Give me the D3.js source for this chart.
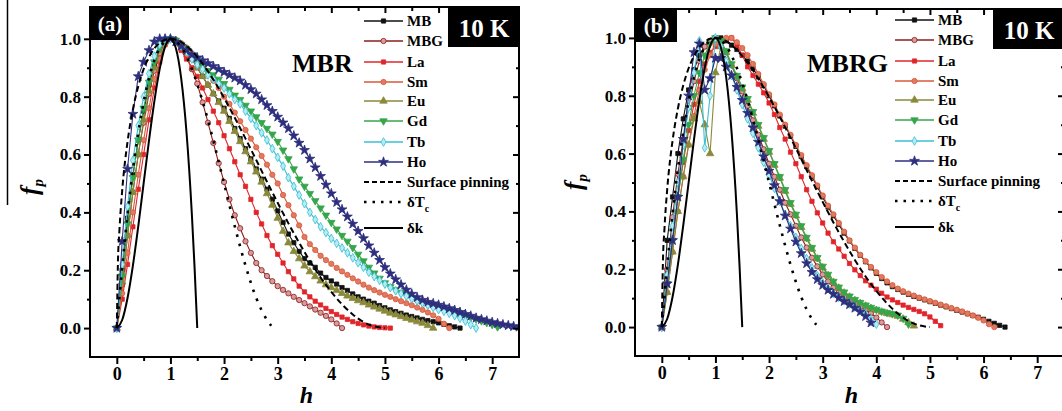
<!DOCTYPE html>
<html><head><meta charset="utf-8">
<script src="https://cdn.jsdelivr.net/npm/d3@7"></script>
<style>
body{margin:0;background:#fff}
svg{display:block}
text{font-family:"Liberation Serif","Times New Roman",serif;font-weight:bold}
</style>
</head><body>
<svg id="c" width="1062" height="411"></svg>
<script>
// ---------- DATA ----------
const H = [0,0.1,0.2,0.3,0.4,0.5,0.6,0.7,0.8,0.9,1,1.1,1.2,1.3,1.4,1.5,1.6,1.7,1.8,1.9,2,2.1,2.2,2.3,2.4,2.5,2.6,2.7,2.8,2.9,3,3.1,3.2,3.3,3.4,3.5,3.6,3.7,3.8,3.9,4,4.1,4.2,4.3,4.4,4.5,4.6,4.7,4.8,4.9,5,5.1,5.2,5.3,5.4,5.5,5.6,5.7,5.8,5.9,6,6.1,6.2,6.3,6.4,6.5,6.6,6.7,6.8,6.9,7,7.1,7.2,7.3,7.4,7.5];

const SERIES = ["MB","MBG","La","Sm","Eu","Gd","Tb","Ho"];

// panel (a) MBR, f_p at h = H[i]
const A_MB = [0,0.2,0.38,0.53,0.65,0.75,0.84,0.91,0.96,0.99,1.0,
 0.995,0.98,0.96,0.93,0.9,0.87,0.84,0.81,0.785,0.76,
 0.725,0.69,0.655,0.62,0.585,0.55,0.515,0.48,0.445,0.405,
 0.365,0.325,0.295,0.265,0.24,0.225,0.21,0.19,0.175,0.163,
 0.152,0.14,0.13,0.118,0.108,0.1,0.093,0.086,0.078,0.07,
 0.063,0.057,0.051,0.045,0.04,0.035,0.03,0.026,0.022,0.018,
 0.013,0.008,0.004,0];
const A_MBG = [0,0.15,0.32,0.47,0.6,0.71,0.81,0.89,0.95,0.99,1.0,
 0.99,0.97,0.94,0.895,0.845,0.78,0.71,0.64,0.57,0.505,
 0.445,0.39,0.345,0.3,0.26,0.225,0.2,0.18,0.162,0.145,
 0.132,0.12,0.108,0.097,0.086,0.075,0.064,0.053,0.042,0.03,
 0.016,0];
const A_La = [0,0.1,0.22,0.35,0.48,0.6,0.72,0.83,0.92,0.98,1.0,
 0.985,0.96,0.93,0.9,0.87,0.83,0.79,0.75,0.71,0.665,
 0.62,0.575,0.53,0.49,0.445,0.4,0.36,0.32,0.285,0.255,
 0.225,0.195,0.17,0.145,0.125,0.108,0.093,0.08,0.068,0.057,
 0.047,0.038,0.03,0.022,0.016,0.011,0.007,0.004,0.002,0.001,0];
const A_Sm = [0,0.12,0.26,0.4,0.53,0.65,0.76,0.86,0.93,0.98,1.0,
 0.995,0.985,0.97,0.95,0.93,0.905,0.88,0.855,0.83,0.8,
 0.775,0.745,0.715,0.685,0.655,0.625,0.595,0.565,0.53,0.5,
 0.46,0.425,0.39,0.355,0.315,0.29,0.27,0.25,0.235,0.222,
 0.208,0.196,0.184,0.172,0.161,0.15,0.14,0.131,0.123,0.115,
 0.108,0.1,0.093,0.086,0.079,0.071,0.063,0.054,0.044,0.032,
 0.015,0];
const A_Eu = [0,0.16,0.32,0.47,0.6,0.72,0.82,0.9,0.96,0.99,1.0,
 0.995,0.98,0.955,0.93,0.9,0.87,0.84,0.81,0.78,0.75,
 0.715,0.68,0.645,0.61,0.575,0.54,0.505,0.465,0.425,0.38,
 0.335,0.295,0.265,0.24,0.215,0.195,0.178,0.163,0.15,0.14,
 0.13,0.12,0.111,0.103,0.095,0.088,0.08,0.073,0.066,0.059,
 0.052,0.046,0.04,0.034,0.028,0.022,0.017,0.009,0];
const A_Gd = [0,0.18,0.36,0.52,0.65,0.76,0.85,0.92,0.97,0.995,1.0,
 0.995,0.98,0.965,0.945,0.93,0.91,0.89,0.875,0.86,0.845,
 0.825,0.805,0.79,0.77,0.75,0.73,0.71,0.69,0.67,0.645,
 0.615,0.585,0.55,0.515,0.49,0.465,0.44,0.415,0.39,0.365,
 0.342,0.32,0.3,0.278,0.255,0.232,0.21,0.19,0.172,0.156,
 0.143,0.133,0.123,0.114,0.105,0.096,0.088,0.082,0.076,0.07,
 0.064,0.058,0.053,0.048,0.042,0.037,0.031,0.025,0.019,0.012,0.004];
const A_Tb = [0,0.22,0.42,0.58,0.7,0.8,0.88,0.94,0.98,1.0,1.0,
 0.99,0.975,0.955,0.93,0.91,0.895,0.875,0.86,0.845,0.83,
 0.81,0.79,0.775,0.75,0.725,0.7,0.675,0.65,0.62,0.59,
 0.56,0.52,0.49,0.46,0.43,0.4,0.375,0.35,0.33,0.31,
 0.293,0.277,0.26,0.243,0.226,0.21,0.193,0.178,0.165,0.152,
 0.14,0.129,0.119,0.11,0.102,0.094,0.087,0.079,0.071,0.064,
 0.058,0.051,0.043,0.034,0.024,0.012,0];
const A_Ho = [0,0.3,0.55,0.74,0.87,0.92,0.96,0.99,1.0,1.0,1.0,
 0.99,0.975,0.96,0.945,0.935,0.925,0.915,0.905,0.895,0.885,
 0.875,0.865,0.855,0.84,0.825,0.81,0.79,0.77,0.75,0.73,
 0.71,0.69,0.665,0.64,0.615,0.585,0.555,0.525,0.495,0.465,
 0.435,0.41,0.385,0.36,0.335,0.31,0.285,0.26,0.235,0.21,
 0.188,0.168,0.15,0.132,0.118,0.106,0.097,0.09,0.085,0.08,
 0.074,0.068,0.062,0.055,0.048,0.042,0.035,0.03,0.025,0.02,
 0.016,0.012,0.009,0.006,0.004];

// panel (b) MBRG
const B_MB = [0,0.3,0.45,0.6,0.72,0.82,0.89,0.94,0.97,0.99,1.0,
 1.0,0.99,0.975,0.96,0.94,0.92,0.895,0.865,0.835,0.8,
 0.765,0.73,0.695,0.66,0.625,0.59,0.555,0.52,0.485,0.45,
 0.415,0.385,0.355,0.325,0.298,0.272,0.248,0.226,0.205,0.186,
 0.168,0.153,0.14,0.13,0.121,0.113,0.106,0.1,0.094,0.088,
 0.082,0.076,0.07,0.064,0.058,0.052,0.046,0.04,0.034,0.027,
 0.02,0.013,0.006,0];
const B_MBG = [0,0.2,0.38,0.53,0.65,0.76,0.85,0.92,0.97,0.99,1.0,
 0.985,0.95,0.905,0.86,0.815,0.765,0.715,0.665,0.615,0.565,
 0.52,0.475,0.43,0.39,0.35,0.31,0.275,0.24,0.21,0.182,
 0.158,0.137,0.12,0.105,0.092,0.08,0.07,0.06,0.048,0.033,
 0.016,0];
const B_La = [0,0.15,0.3,0.45,0.57,0.68,0.77,0.85,0.91,0.95,0.97,
 0.985,0.995,1.0,0.975,0.94,0.9,0.87,0.84,0.81,0.775,
 0.735,0.69,0.65,0.605,0.565,0.52,0.475,0.435,0.395,0.36,
 0.325,0.295,0.27,0.245,0.22,0.198,0.178,0.16,0.145,0.131,
 0.117,0.104,0.094,0.085,0.076,0.068,0.061,0.054,0.046,0.035,
 0.02,0.005];
const B_Sm = [0,0.12,0.26,0.4,0.52,0.63,0.73,0.82,0.89,0.94,0.98,
 0.99,1.0,1.0,0.985,0.965,0.94,0.91,0.875,0.84,0.805,
 0.77,0.735,0.7,0.665,0.63,0.595,0.56,0.525,0.49,0.455,
 0.42,0.39,0.36,0.33,0.3,0.275,0.25,0.228,0.208,0.19,
 0.173,0.158,0.145,0.133,0.124,0.116,0.109,0.102,0.096,0.09,
 0.084,0.078,0.072,0.066,0.06,0.054,0.047,0.04,0.032,0.023,
 0.01,0];
const B_Eu = [0,0.12,0.26,0.4,0.52,0.63,0.72,0.78,0.7,0.6,0.88,
 0.97,0.95,0.905,0.865,0.825,0.785,0.74,0.695,0.65,0.605,
 0.56,0.515,0.47,0.425,0.385,0.345,0.305,0.27,0.236,0.205,
 0.178,0.155,0.135,0.118,0.104,0.092,0.082,0.073,0.065,0.058,
 0.052,0.047,0.043,0.038,0.028,0.016,0.004];
const B_Gd = [0,0.15,0.3,0.45,0.58,0.7,0.8,0.88,0.94,0.98,1.0,
 0.99,0.955,0.91,0.87,0.83,0.79,0.745,0.7,0.655,0.61,
 0.565,0.52,0.475,0.43,0.39,0.35,0.31,0.275,0.24,0.21,
 0.182,0.158,0.138,0.121,0.107,0.095,0.085,0.076,0.068,0.061,
 0.055,0.05,0.046,0.041,0.03,0.01];
const B_Tb = [0,0.18,0.35,0.5,0.63,0.76,0.88,0.99,0.62,0.8,1.0,
 0.97,0.92,0.87,0.82,0.77,0.72,0.67,0.62,0.57,0.525,
 0.48,0.435,0.39,0.35,0.31,0.272,0.237,0.205,0.177,0.153,
 0.133,0.117,0.103,0.091,0.08,0.069,0.058,0.045,0.028,0.01];
const B_Ho = [0,0.15,0.3,0.45,0.65,0.8,0.95,0.98,0.82,0.86,0.93,
 0.93,0.9,0.87,0.83,0.785,0.74,0.69,0.64,0.59,0.54,
 0.49,0.435,0.385,0.34,0.295,0.255,0.22,0.19,0.165,0.145,
 0.128,0.114,0.101,0.089,0.078,0.066,0.053,0.037,0.015];

// theoretical curves
const SURF_H = [0,0.02,0.05,0.1,0.2,0.3,0.4,0.5,0.6,0.7,0.8,0.9,1.0,1.2,1.4,1.6,1.8,2.0,2.2,2.4,2.6,2.8,3.0,3.2,3.4,3.6,3.8,4.0,4.2,4.4,4.6,4.8,5.0];
const SURF_F = [0,0.22,0.342,0.475,0.644,0.756,0.836,0.895,0.937,0.967,0.986,0.997,1,0.989,0.958,0.914,0.859,0.796,0.727,0.655,0.581,0.506,0.433,0.362,0.295,0.232,0.175,0.125,0.082,0.047,0.021,0.006,0];
const DTC_H = [0,0.1,0.2,0.3,0.4,0.5,0.6,0.7,0.8,0.9,1.0,1.2,1.4,1.6,1.8,2.0,2.2,2.4,2.6,2.8,2.88];
const DTC_F = [0,0.21,0.392,0.547,0.676,0.781,0.864,0.926,0.968,0.992,1,0.972,0.896,0.784,0.648,0.5,0.352,0.216,0.104,0.028,0.008];
const DK_H = [0,0.1,0.2,0.3,0.4,0.5,0.6,0.7,0.8,0.9,1.0,1.1,1.2,1.3,1.4,1.45,1.5];
const DK_F = [0,0.028,0.104,0.216,0.352,0.5,0.648,0.784,0.896,0.972,1,0.968,0.864,0.676,0.392,0.21,0];

const X_TICKS = [0,1,2,3,4,5,6,7];
const X_MINOR = [0.5,1.5,2.5,3.5,4.5,5.5,6.5];
const Y_TICKS = [0,0.2,0.4,0.6,0.8,1.0];
const Y_MINOR = [0.1,0.3,0.5,0.7,0.9];
const LEGEND_THEORY = ["Surface pinning","δT","δk"];

// ---------- STYLE ----------
const STY = {
  MB:  {c:"#111111", fill:"#111111", sym:d3.symbolSquare, size:18, rot:0},
  MBG: {c:"#8a1c1c", fill:"#d99a9a", sym:d3.symbolCircle, size:22, rot:0},
  La:  {c:"#e0262b", fill:"#e0262b", sym:d3.symbolSquare, size:18, rot:0},
  Sm:  {c:"#d8583a", fill:"#e07a60", sym:d3.symbolCircle, size:22, rot:0},
  Eu:  {c:"#8a893a", fill:"#8a893a", sym:d3.symbolTriangle, size:24, rot:0},
  Gd:  {c:"#35a64a", fill:"#35a64a", sym:d3.symbolTriangle, size:24, rot:180},
  Tb:  {c:"#38bfd3", fill:"#b4ecf3", sym:d3.symbolDiamond, size:22, rot:0},
  Ho:  {c:"#2d2f7e", fill:"#2d2f7e", sym:d3.symbolStar, size:30, rot:0}
};

const svg = d3.select("#c");
const pts = (f) => f.map((v,i)=>[H[i],v]);
const zip = (hs,fs) => hs.map((h,i)=>[h,fs[i]]);

// artefact line at left edge of reference
svg.append("line").attr("x1",7.5).attr("x2",7.5).attr("y1",0).attr("y2",205)
  .attr("stroke","#000").attr("stroke-width",1.5);

function drawPanel(cfg){
  const x = d3.scaleLinear().domain([-0.5,7.5]).range(cfg.xr);
  const y = d3.scaleLinear().domain(cfg.yd).range(cfg.yr);
  const g = svg.append("g");
  const L = cfg.xr[0], R = cfg.xr[1], T = cfg.yr[1], B = cfg.yr[0];
  const id = "clip"+cfg.tag;
  g.append("clipPath").attr("id",id).append("rect")
    .attr("x",L).attr("y",T).attr("width",R-L).attr("height",B-T);

  const plot = g.append("g").attr("clip-path",`url(#${id})`);
  const line = d3.line().x(d=>x(d[0])).y(d=>y(d[1]));
  SERIES.forEach(s=>{
    const data = pts(cfg.data[s]);
    const st = STY[s];
    plot.append("path").attr("d",line(data)).attr("fill","none")
      .attr("stroke",st.c).attr("stroke-width",1.1);
    const sym = d3.symbol().type(st.sym).size(st.size);
    plot.append("g").selectAll("path").data(data).join("path")
      .attr("d",sym)
      .attr("transform",d=>`translate(${x(d[0])},${y(d[1])}) rotate(${st.rot})`)
      .attr("fill",st.fill).attr("stroke",st.c).attr("stroke-width",0.8);
  });
  const tl = d3.line().x(d=>x(d[0])).y(d=>y(d[1])).curve(d3.curveMonotoneX);
  plot.append("path").attr("d",tl(zip(SURF_H,SURF_F))).attr("fill","none")
    .attr("stroke","#000").attr("stroke-width",2).attr("stroke-dasharray","6,3.5");
  plot.append("path").attr("d",tl(zip(DTC_H,DTC_F))).attr("fill","none")
    .attr("stroke","#000").attr("stroke-width",2.6).attr("stroke-dasharray","2.6,7")
    .attr("stroke-linecap","butt");
  plot.append("path").attr("d",tl(zip(DK_H,DK_F))).attr("fill","none")
    .attr("stroke","#000").attr("stroke-width",2);

  // axes
  const fs = "17px";
  const ax = (a)=>a.call(s=>s.select(".domain").remove());
  const gb = g.append("g").attr("transform",`translate(0,${B})`)
    .call(d3.axisBottom(x).tickValues(X_TICKS).tickSize(7).tickPadding(3).tickFormat(d3.format("d")));
  ax(gb);
  gb.selectAll("text").attr("font-size","18px").attr("fill","#000");
  gb.selectAll("line").attr("stroke-width",2);
  const gbm = g.append("g").attr("transform",`translate(0,${B})`)
    .call(d3.axisBottom(x).tickValues(X_MINOR).tickSize(4).tickFormat(""));
  ax(gbm); gbm.selectAll("line").attr("stroke-width",2);
  const gt = g.append("g").attr("transform",`translate(0,${T})`)
    .call(d3.axisTop(x).tickValues(X_TICKS).tickSize(-6).tickFormat(""));
  ax(gt); gt.selectAll("line").attr("stroke-width",2);
  const gtm = g.append("g").attr("transform",`translate(0,${T})`)
    .call(d3.axisTop(x).tickValues(X_MINOR).tickSize(-4).tickFormat(""));
  ax(gtm); gtm.selectAll("line").attr("stroke-width",2);
  const gl = g.append("g").attr("transform",`translate(${L},0)`)
    .call(d3.axisLeft(y).tickValues(Y_TICKS).tickSize(6).tickPadding(3).tickFormat(d3.format(".1f")));
  ax(gl);
  gl.selectAll("text").attr("font-size",fs).attr("fill","#000");
  gl.selectAll("line").attr("stroke-width",2);
  const glm = g.append("g").attr("transform",`translate(${L},0)`)
    .call(d3.axisLeft(y).tickValues(Y_MINOR).tickSize(3).tickFormat(""));
  ax(glm); glm.selectAll("line").attr("stroke-width",2);
  const gr = g.append("g").attr("transform",`translate(${R},0)`)
    .call(d3.axisRight(y).tickValues(Y_TICKS).tickSize(-6).tickFormat(""));
  ax(gr); gr.selectAll("line").attr("stroke-width",2);
  const grm = g.append("g").attr("transform",`translate(${R},0)`)
    .call(d3.axisRight(y).tickValues(Y_MINOR).tickSize(-3).tickFormat(""));
  ax(grm); grm.selectAll("line").attr("stroke-width",2);

  g.append("rect").attr("x",L).attr("y",T).attr("width",R-L).attr("height",B-T)
    .attr("fill","none").attr("stroke","#000").attr("stroke-width",2);

  // panel tag box
  g.append("rect").attr("x",L+1).attr("y",T).attr("width",cfg.tagW).attr("height",33).attr("fill","#000");
  g.append("text").attr("x",L+1+cfg.tagW/2).attr("y",T+24).attr("text-anchor","middle")
    .attr("fill","#fff").attr("font-size","21px").text(cfg.tagText);

  // 10 K box
  g.append("rect").attr("x",cfg.kx).attr("y",T).attr("width",cfg.kw).attr("height",40).attr("fill","#000");
  g.append("text").attr("x",cfg.kx+36).attr("y",T+30).attr("text-anchor","middle")
    .attr("fill","#fff").attr("font-size","25px").text("10 K");

  // sample label
  g.append("text").attr("x",cfg.lblX).attr("y",cfg.lblY).attr("font-size","26px")
    .attr("fill","#000").text(cfg.label);

  // legend
  const lx0 = cfg.legX, lx1 = cfg.legX+39, tx = cfg.legX+43;
  const rowY = [0,20,41,61,80,100,121,141,161,181,207].map(v=>v+cfg.legY);
  SERIES.forEach((s,i)=>{
    const st = STY[s], yy = rowY[i];
    g.append("line").attr("x1",lx0).attr("x2",lx1).attr("y1",yy).attr("y2",yy)
      .attr("stroke",st.c).attr("stroke-width",1.6);
    g.append("path").attr("d",d3.symbol().type(st.sym).size(st.size)())
      .attr("transform",`translate(${(lx0+lx1)/2},${yy}) rotate(${st.rot})`)
      .attr("fill",st.fill).attr("stroke",st.c).attr("stroke-width",0.8);
    g.append("text").attr("x",tx).attr("y",yy+5).attr("font-size","15px").attr("fill","#000").text(s);
  });
  const dashes = ["5,3","2.5,6",null];
  LEGEND_THEORY.forEach((t,j)=>{
    const yy = rowY[8+j];
    const ln = g.append("line").attr("x1",lx0).attr("x2",lx1).attr("y1",yy).attr("y2",yy)
      .attr("stroke","#000").attr("stroke-width",j==1?2.6:2);
    if(dashes[j]) ln.attr("stroke-dasharray",dashes[j]);
    const tt = g.append("text").attr("x",tx).attr("y",yy+5).attr("font-size","15px").attr("fill","#000").text(t);
    if(j==1) tt.append("tspan").attr("dy",5).attr("font-size","10px").text("c");
  });

  // axis titles
  const yt = svg.append("text").attr("transform",`translate(${cfg.ytX},${cfg.ytY}) rotate(-90)`)
    .attr("text-anchor","middle").attr("font-size","25px").attr("font-style","italic").attr("fill","#000");
  yt.append("tspan").text("f");
  yt.append("tspan").attr("dy",5).attr("font-size","15px").text("p");
  svg.append("text").attr("x",(x(0)+x(7))/2+2).attr("y",403).attr("text-anchor","middle")
    .attr("font-size","24px").attr("font-style","italic").attr("fill","#000").text("h");
}

drawPanel({tag:"a", xr:[90,519], yd:[-0.1,1.11], yr:[357,7],
  data:{MB:A_MB,MBG:A_MBG,La:A_La,Sm:A_Sm,Eu:A_Eu,Gd:A_Gd,Tb:A_Tb,Ho:A_Ho},
  tagW:38, tagText:"(a)", kx:448, kw:71, label:"MBR", lblX:292, lblY:72,
  legX:364, legY:21, ytX:38, ytY:187});
drawPanel({tag:"b", xr:[635,1064], yd:[-0.1,1.1], yr:[356,9],
  data:{MB:B_MB,MBG:B_MBG,La:B_La,Sm:B_Sm,Eu:B_Eu,Gd:B_Gd,Tb:B_Tb,Ho:B_Ho},
  tagW:41, tagText:"(b)", kx:993, kw:71, label:"MBRG", lblX:807, lblY:72,
  legX:895, legY:20, ytX:582, ytY:182});
</script>
</body></html>
